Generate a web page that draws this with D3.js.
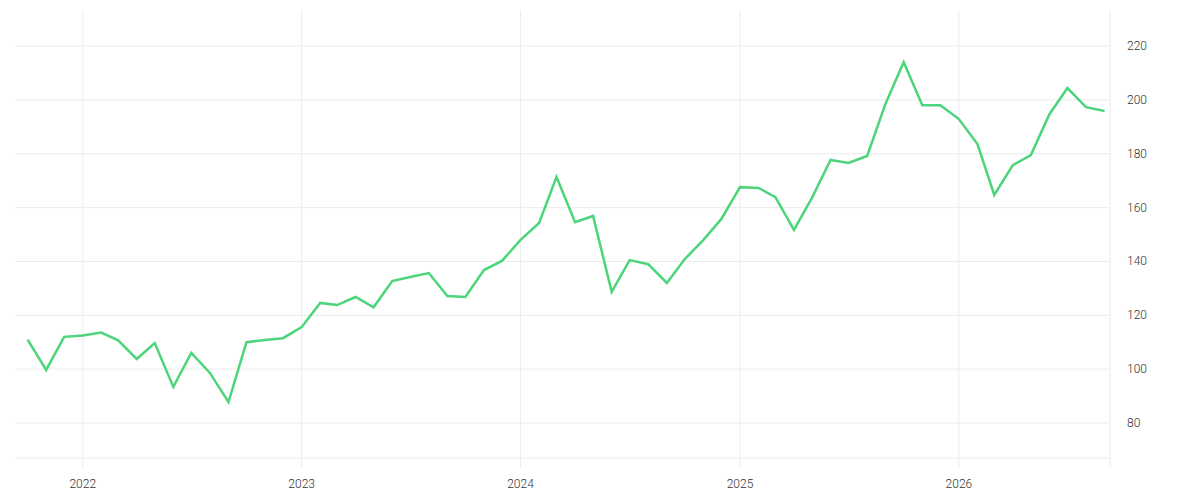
<!DOCTYPE html><html><head><meta charset="utf-8"><script src="https://cdn.jsdelivr.net/npm/d3@7"></script>
<style>body{margin:0;background:#fff}text{font-family:Roboto,sans-serif;font-weight:300;fill:#333;font-size:12px}</style></head><body><svg id="c" width="1200" height="500"></svg><script>
const values=[111,99.7,112,112.5,113.6,110.7,103.8,109.7,93.4,106,98.6,87.8,110,110.8,111.5,115.6,124.6,123.8,126.8,123,132.7,134.2,135.7,127.2,126.8,136.8,140.2,148,154.3,171.4,154.6,156.9,128.7,140.5,139,132,140.9,148,155.8,167.6,167.3,163.9,151.7,163.6,177.7,176.6,179.2,198.8,214,198,198,192.9,183.6,164.7,175.8,179.5,194.7,204.4,197.3,195.9];
const yTicks=[80,100,120,140,160,180,200,220];
const xTickYears=[2022,2023,2024,2025,2026];
const dates=values.map((v,i)=>new Date(2021,9+i,1));
const svg=d3.select("#c");
const L=15,R=1110,T=10,B=468;
const x=d3.scaleTime().domain([new Date(2021,8,10),new Date(2026,8,10)]).range([L,R]);
const y=d3.scaleLinear().domain([233.4,67]).range([T,458]);
const g=svg.append("g");
xTickYears.forEach(yr=>{const px=x(new Date(yr,0,1));g.append("line").attr("x1",px).attr("x2",px).attr("y1",T).attr("y2",B).attr("stroke","#ececec");
 g.append("text").attr("x",px).attr("y",488).attr("text-anchor","middle").text(yr);});
yTicks.forEach(t=>{g.append("line").attr("x1",L).attr("x2",R).attr("y1",y(t)).attr("y2",y(t)).attr("stroke","#ececec");
 g.append("text").attr("x",1127).attr("y",y(t)+4).text(t);});
g.append("line").attr("x1",L).attr("x2",R).attr("y1",458).attr("y2",458).attr("stroke","#ececec");
g.append("line").attr("x1",R).attr("x2",R).attr("y1",T).attr("y2",B).attr("stroke","#ececec");
svg.append("path").datum(values).attr("fill","none").attr("stroke","#4cd57a").attr("stroke-width",2.5)
 .attr("d",d3.line().x((d,i)=>x(dates[i])).y(d=>y(d)));
</script></body></html>
